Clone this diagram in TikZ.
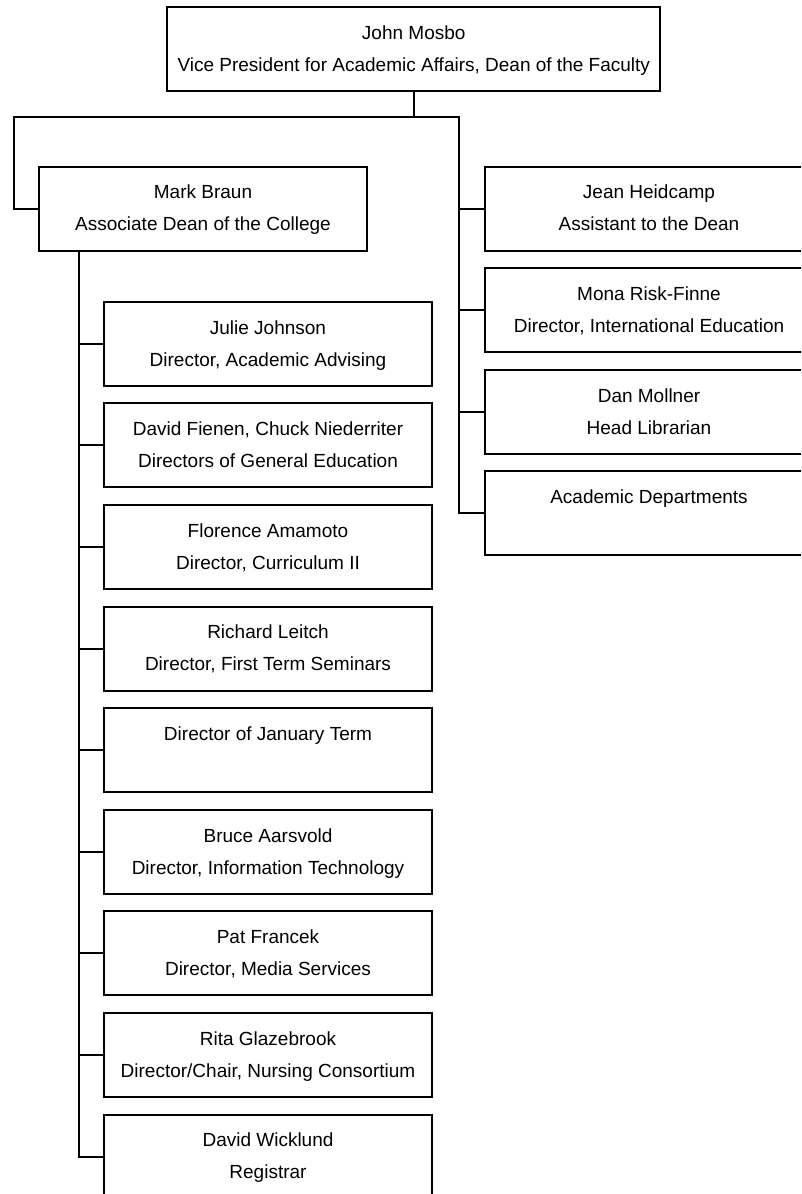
\documentclass[tikz,border=0pt]{standalone}
\usepackage{fontspec}
\setmainfont{Liberation Sans}
\begin{document}
\begin{tikzpicture}[x=1pt,y=-1pt,
  line width=2pt,
  orgbox/.style={draw, line width=2pt, inner sep=0pt, align=center,
    minimum width=328pt, minimum height=84pt,
    font=\fontsize{19}{32}\selectfont},
  wide/.style={minimum width=493pt},
  link/.style={line width=2pt}]
\useasboundingbox (0,0) rectangle (801,1194);
\fill[white] (0,0) rectangle (801,1194);
\clip (0,0) rectangle (801,1194);

% top of the chart
\node[orgbox, wide] (vp) at (413.75,49) {John Mosbo\strut\\Vice President for Academic Affairs, Dean of the Faculty\strut};

% associate dean
\node[orgbox] (braun) at (203,208.5) {Mark Braun\strut\\Associate Dean of the College\strut};

% units reporting directly to the VP
\node[orgbox] (heidcamp) at (649,208.5) {Jean Heidcamp\strut\\Assistant to the Dean\strut};
\node[orgbox] (risk)     at (649,310.1) {Mona Risk-Finne\strut\\Director, International Education\strut};
\node[orgbox] (mollner)  at (649,411.7) {Dan Mollner\strut\\Head Librarian\strut};
\node[orgbox] (depts)    at (649,513.3) {Academic Departments\strut\\\strut};

% directors under the associate dean
\node[orgbox] (johnson)    at (268,343.7)  {Julie Johnson\strut\\Director, Academic Advising\strut};
\node[orgbox] (fienen)     at (268,445.3)  {David Fienen, Chuck Niederriter\strut\\Directors of General Education\strut};
\node[orgbox] (amamoto)    at (268,546.9)  {Florence Amamoto\strut\\Director, Curriculum II\strut};
\node[orgbox] (leitch)     at (268,648.5)  {Richard Leitch\strut\\Director, First Term Seminars\strut};
\node[orgbox] (jterm)      at (268,750.1)  {Director of January Term\strut\\\strut};
\node[orgbox] (aarsvold)   at (268,851.7)  {Bruce Aarsvold\strut\\Director, Information Technology\strut};
\node[orgbox] (francek)    at (268,953.3)  {Pat Francek\strut\\Director, Media Services\strut};
\node[orgbox] (glazebrook) at (268,1054.9) {Rita Glazebrook\strut\\Director/Chair, Nursing Consortium\strut};
\node[orgbox] (wicklund)   at (268,1156.5) {David Wicklund\strut\\Registrar\strut};

% connector bus below the VP
\coordinate (busL) at (14,117);
\coordinate (busR) at (459,117);
\coordinate (spine) at (79,0);

\draw[link] (vp.south) -- (vp.south |- busL);
\draw[link] (braun.west) -| (busL) -- (busR) |- (depts.west);
\foreach \n in {heidcamp,risk,mollner}
  \draw[link] (busR |- \n.west) -- (\n.west);

% spine below the associate dean
\draw[link] (spine |- braun.south) |- (wicklund.west);
\foreach \n in {johnson,fienen,amamoto,leitch,jterm,aarsvold,francek,glazebrook}
  \draw[link] (spine |- \n.west) -- (\n.west);
\end{tikzpicture}
\end{document}
